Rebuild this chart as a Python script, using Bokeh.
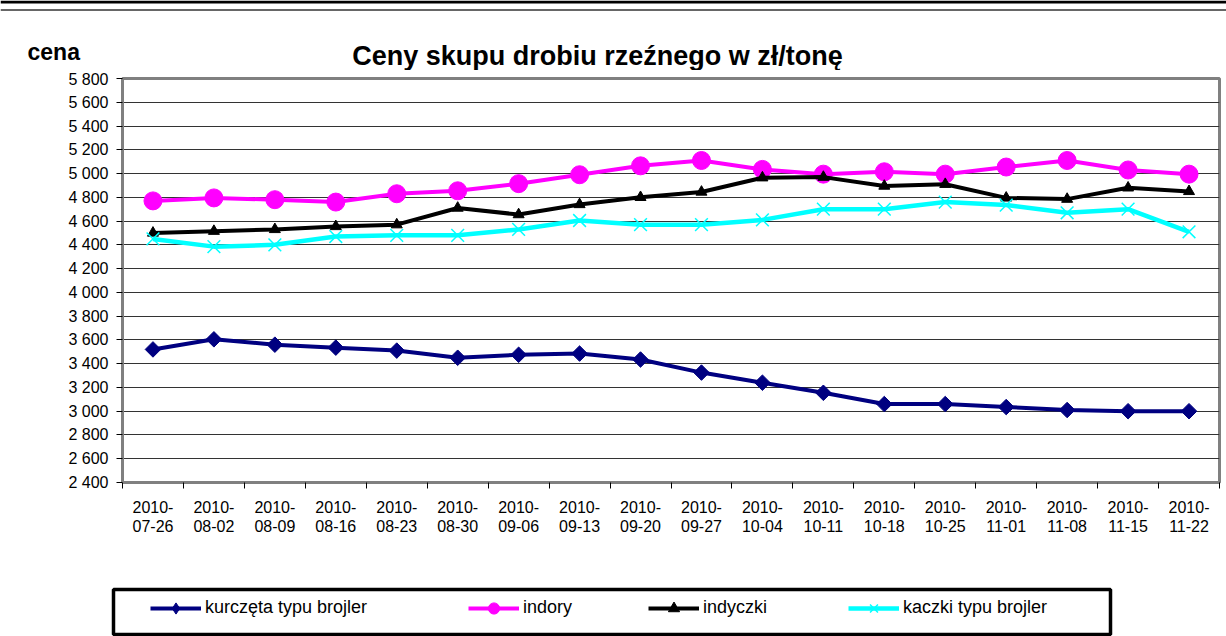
import math
from bokeh.plotting import figure
from bokeh.models import (FactorRange, Range1d, LinearAxis, FixedTicker,
                          Legend, LegendItem, Label, BoxAnnotation, Span)
from bokeh.embed import file_html
from bokeh.resources import INLINE

# ---------------- data ----------------
dates = ["2010-07-26", "2010-08-02", "2010-08-09", "2010-08-16", "2010-08-23", "2010-08-30",
         "2010-09-06", "2010-09-13", "2010-09-20", "2010-09-27", "2010-10-04", "2010-10-11",
         "2010-10-18", "2010-10-25", "2010-11-01", "2010-11-08", "2010-11-15", "2010-11-22"]

kurczeta = [3520, 3605, 3560, 3535, 3510, 3450, 3475, 3485, 3435, 3325, 3240, 3155,
            3060, 3060, 3035, 3010, 3000, 3000]
indory = [4770, 4795, 4780, 4760, 4830, 4855, 4915, 4990, 5065, 5110, 5035, 4995,
          5015, 4995, 5055, 5110, 5030, 4995]
indyczki = [4500, 4515, 4530, 4555, 4570, 4710, 4655, 4740, 4800, 4845, 4965, 4970,
            4895, 4910, 4795, 4785, 4880, 4850]
kaczki = [4450, 4385, 4400, 4470, 4480, 4480, 4530, 4605, 4570, 4570, 4610, 4700,
          4700, 4760, 4735, 4670, 4700, 4510]

series_names = ["kurczęta typu brojler", "indory", "indyczki", "kaczki typu brojler"]

y_ticks = [2400, 2600, 2800, 3000, 3200, 3400, 3600, 3800, 4000, 4200, 4400, 4600,
           4800, 5000, 5200, 5400, 5600, 5800]
y_tick_labels = ["2 400", "2 600", "2 800", "3 000", "3 200", "3 400", "3 600", "3 800",
                 "4 000", "4 200", "4 400", "4 600", "4 800", "5 000", "5 200", "5 400",
                 "5 600", "5 800"]
x_tick_line1 = [d[:5] for d in dates]   # "2010-"
x_tick_line2 = [d[5:] for d in dates]   # "07-26"

title_text = "Ceny skupu drobiu rzeźnego w zł/tonę"
unit_text = "cena"

# ---------------- style ----------------
FONT = "Liberation Sans"
W = 1226
N = len(dates)
HEAD_H, MAIN_H, FOOT_H = 70, 500, 66     # stacked: 0-70, 70-570, 570-636 (page px)

CHART_MARKERS = ["square", "circle", "triangle", "x"]
CHART_ANGLES = [math.pi / 4, 0, 0, 0]
LEGEND_MARKERS = ["diamond", "circle", "triangle", "x"]
COLORS = ["#000080", "#FF00FF", "black", "#00FFFF"]
LINE_WIDTHS = [4, 4, 4, 4.5]
SIZES = [11, 18, 11, 18]
SERIES_DATA = [kurczeta, indory, indyczki, kaczki]


def add_series(fig, markers, angles):
    out = []
    for vals, col, lw, mk, ang, sz in zip(SERIES_DATA, COLORS, LINE_WIDTHS, markers,
                                          angles, SIZES):
        rl = fig.line(dates, vals, line_color=col, line_width=lw)
        if mk == "x":
            rm = fig.scatter(dates, vals, marker="x", size=sz, line_color=col, line_width=1.5)
        else:
            rm = fig.scatter(dates, vals, marker=mk, angle=ang, size=sz,
                             fill_color=col, line_color=col)
        out.append([rl, rm])
    return out


def bare(fig):
    fig.title.visible = False
    fig.grid.visible = False
    fig.outline_line_alpha = 0
    fig.background_fill_color = "white"
    fig.border_fill_color = "white"


# ---------------- header (title, unit) ----------------
head = figure(width=W, height=HEAD_H, x_range=Range1d(0, W), y_range=Range1d(HEAD_H, 0),
              x_axis_location=None, y_axis_location=None, output_backend="svg",
              toolbar_location=None, min_border_left=0, min_border_right=0,
              min_border_top=0, min_border_bottom=0)
bare(head)
head.add_layout(Span(location=1.5, dimension="width", line_color="black", line_width=3))
head.add_layout(Span(location=9.5, dimension="width", line_color="#333333", line_width=1.5))
head.add_layout(Label(x=597, y=55.5, text=title_text, text_align="center",
                      text_baseline="alphabetic", text_font=FONT, text_font_size="27px",
                      text_font_style="bold", text_color="black"))
head.add_layout(Label(x=27, y=51, text=unit_text, text_align="left",
                      text_baseline="alphabetic", text_font=FONT, text_font_size="23px",
                      text_font_style="bold", text_color="black"))

# ---------------- main chart ----------------
p = figure(width=W, height=MAIN_H,
           x_range=FactorRange(factors=dates, range_padding=0),
           y_range=Range1d(y_ticks[0], y_ticks[-1]),
           x_axis_location=None, y_axis_location="left",
           output_backend="svg", toolbar_location=None,
           min_border_left=122, min_border_right=7, min_border_top=8, min_border_bottom=88)
p.title.visible = False
p.background_fill_color = "white"
p.border_fill_color = "white"
p.outline_line_color = "#808080"
p.outline_line_width = 3

yax = p.yaxis[0]
yax.ticker = FixedTicker(ticks=y_ticks)
yax.major_label_overrides = {t: l for t, l in zip(y_ticks, y_tick_labels)}
yax.axis_line_color = "#808080"
yax.axis_line_width = 3
yax.major_tick_line_color = "black"
yax.major_tick_out = 6
yax.major_tick_in = 0
yax.minor_tick_out = 0
yax.minor_tick_in = 0
yax.major_label_standoff = 8
yax.major_label_text_font = FONT
yax.major_label_text_font_size = "16px"
yax.major_label_text_color = "black"

p.ygrid.ticker = yax.ticker
p.ygrid.grid_line_color = "#333333"
p.ygrid.grid_line_width = 1
p.xgrid.visible = False

# tick marks between categories
tax = LinearAxis(ticker=FixedTicker(ticks=list(range(N + 1))),
                 major_label_overrides={i: "" for i in range(N + 1)},
                 axis_line_color="#808080", axis_line_width=3,
                 major_tick_line_color="black", major_tick_out=6, major_tick_in=0,
                 minor_tick_out=0, minor_tick_in=0, major_label_standoff=0,
                 major_label_text_font_size="1px")
p.add_layout(tax, "below")

# two-line category labels, centred on each category
centers = [i + 0.5 for i in range(N)]
for lines, standoff in ((x_tick_line1, 12), (x_tick_line2, 4)):
    lax = LinearAxis(ticker=FixedTicker(ticks=centers),
                     major_label_overrides={c: l for c, l in zip(centers, lines)},
                     axis_line_alpha=0, major_tick_line_alpha=0, major_tick_out=0,
                     major_tick_in=0, minor_tick_out=0, minor_tick_in=0,
                     major_label_standoff=standoff, major_label_text_font=FONT,
                     major_label_text_font_size="16px", major_label_text_color="black",
                     major_label_orientation="horizontal")
    p.add_layout(lax, "below")

add_series(p, CHART_MARKERS, CHART_ANGLES)

# ---------------- footer (legend) ----------------
foot = figure(width=W, height=FOOT_H,
              x_range=FactorRange(factors=dates, range_padding=0),
              y_range=Range1d(HEAD_H + MAIN_H + FOOT_H, HEAD_H + MAIN_H),
              x_axis_location=None, y_axis_location=None, output_backend="svg",
              toolbar_location=None, min_border_left=0, min_border_right=0,
              min_border_top=0, min_border_bottom=0)
bare(foot)
leg_rends = add_series(foot, LEGEND_MARKERS, [0, 0, 0, 0])   # legend glyph sources only


def fxf(sx):
    return sx * N / W


foot.add_layout(BoxAnnotation(left=fxf(113), right=fxf(1110), top=589, bottom=634,
                              fill_alpha=0, line_color="black", line_alpha=1,
                              line_width=3.5))
legend_x = [150, 468, 648, 848]
for name, rends, lx in zip(series_names, leg_rends, legend_x):
    leg = Legend(items=[LegendItem(label=name, renderers=rends)], location=(lx, 14.5),
                 orientation="horizontal", glyph_width=51, glyph_height=28, label_standoff=4,
                 padding=0, margin=0, spacing=0, border_line_alpha=0,
                 background_fill_alpha=0, label_text_font=FONT,
                 label_text_font_size="18px", label_text_color="black")
    foot.add_layout(leg)

open("out.html", "w").write(file_html([head, p, foot], INLINE))
